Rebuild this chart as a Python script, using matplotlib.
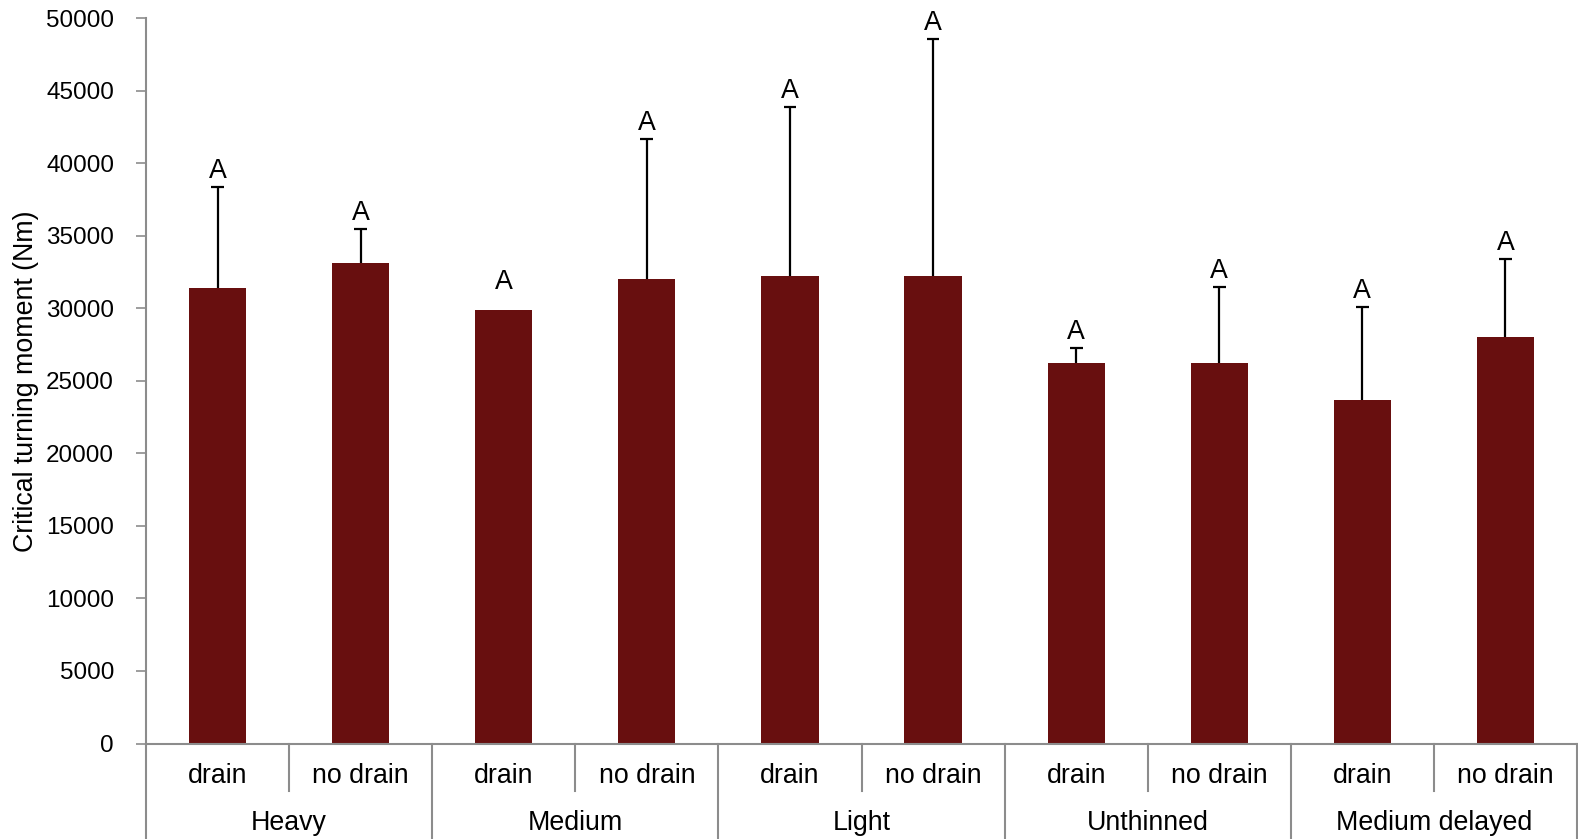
import numpy as np
import matplotlib.pyplot as plt
from matplotlib.transforms import blended_transform_factory

plt.rcParams['font.family'] = ['Liberation Sans', 'DejaVu Sans']

groups = ["Heavy", "Medium", "Light", "Unthinned", "Medium delayed"]
drainage = ["drain", "no drain"]

# mean critical turning moment (Nm) per treatment, drain / no drain in turn
moment = [31400, 33100, 29900, 32000, 32200, 32200, 26200, 26200, 23700, 28000]
# upper error (standard deviation)
moment_sd = [7000, 2400, 0, 9700, 11700, 16400, 1100, 5300, 6400, 5400]
letters = ["A"] * 10

W, H = 1578, 839
dpi = 100
bar_color = "#680f0f"
axis_grey = "#8c8c8c"
fs = 19.3

fig = plt.figure(figsize=(W / dpi, H / dpi), dpi=dpi)
ax = fig.add_axes([146 / W, 1 - 743.5 / H, (1577 - 146) / W, (743.5 - 18.3) / H])

x = np.arange(len(moment))
mean = np.array(moment)
sd = np.array(moment_sd)

ax.bar(x, mean, width=0.4, color=bar_color, zorder=2)

# upper error bars only, with a cap at the top end
has_err = sd > 0
tops = mean[has_err] + sd[has_err]
ax.vlines(x[has_err], mean[has_err], tops, color="black", lw=1.6, zorder=3)
ax.hlines(tops, x[has_err] - 0.045, x[has_err] + 0.045, color="black", lw=1.6, zorder=3)

# significance letters above each bar / error bar
for xi, m, s, lab in zip(x, mean, sd, letters):
    ax.annotate(lab, (xi, m + max(s, 800)), xytext=(0, 2), textcoords="offset points",
                ha="center", va="bottom", fontsize=fs)

ax.set_xlim(-0.5, len(moment) - 0.5)
ax.set_ylim(0, 50000)
ax.set_yticks(np.arange(0, 50001, 5000))
ax.tick_params(axis="y", direction="out", length=7, width=1.2, color=axis_grey,
               labelsize=17.5, pad=16)
ax.set_xticks([])

for side in ("top", "right"):
    ax.spines[side].set_visible(False)
for side in ("left", "bottom"):
    ax.spines[side].set_color(axis_grey)
    ax.spines[side].set_linewidth(1.5)

ax.set_ylabel("Critical turning moment (Nm)", fontsize=fs)
ax.yaxis.set_label_coords(-0.0745, 0.5)

# two-level category axis underneath the bars
trans = blended_transform_factory(ax.transData, fig.transFigure)
y_axis = 1 - 743.5 / H
y_minor_end = 1 - 791 / H
y_sub = 1 - 776 / H
y_group = 1 - 823 / H

for i, lab in enumerate(drainage * len(groups)):
    fig.text(x[i], y_sub, lab, transform=trans, ha="center", va="center", fontsize=fs)
for g, name in enumerate(groups):
    fig.text(2 * g + 0.5, y_group, name, transform=trans, ha="center", va="center", fontsize=fs)
    ax.plot([2 * g + 0.5] * 2, [y_axis, y_minor_end], transform=trans, color=axis_grey,
            lw=1.5, clip_on=False)
for g in range(len(groups) + 1):
    ax.plot([2 * g - 0.5] * 2, [y_axis, 0], transform=trans, color=axis_grey,
            lw=1.5, clip_on=False)

fig.savefig("out.png", dpi=dpi)
